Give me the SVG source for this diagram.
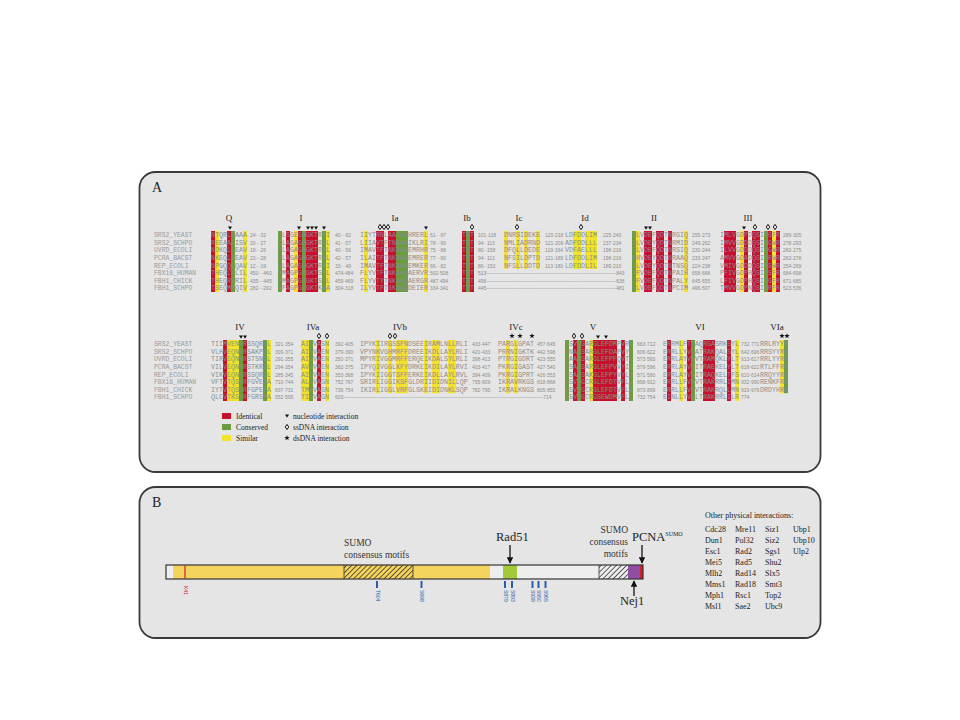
<svg xmlns="http://www.w3.org/2000/svg" width="960" height="720" viewBox="0 0 960 720">
<style>
.panel{fill:#e5e5e5;stroke:#3a3a3a;stroke-width:1.8}
.r{fill:#c8102e}.g{fill:#6a9e3a}.y{fill:#f2e32a}
.seq{font-family:"Liberation Mono",monospace;font-size:6.67px;fill:#8c8c8c}
.num{font-family:"Liberation Sans",sans-serif;font-size:5px;fill:#8c8c8c}
.nm{font-family:"Liberation Mono",monospace;font-size:6.4px;fill:#9a9a9a}
.mot{font-family:"Liberation Serif",serif;font-size:9px;fill:#222;text-anchor:middle}
.big{font-family:"Liberation Serif",serif;font-size:14px;fill:#222}
.leg{font-family:"Liberation Serif",serif;font-size:7.5px;fill:#222}
.lab{font-family:"Liberation Serif",serif;font-size:9.5px;fill:#333}
.lab2{font-family:"Liberation Serif",serif;font-size:12.5px;fill:#222}
.int{font-family:"Liberation Serif",serif;font-size:8px;fill:#222}
.site{font-family:"Liberation Sans",sans-serif;font-size:5px;fill:#2a5caa}
.tick{fill:#2a5caa}
.arr{stroke:#111;stroke-width:1.3;fill:none}
</style>
<defs>
<path id="tri" d="M-2,-1.6 L2,-1.6 L0,1.8 Z" fill="#111"/>
<path id="dia" d="M0,-2.6 L1.7,0 L0,2.6 L-1.7,0 Z" fill="#fff" stroke="#111" stroke-width="1"/>
<path id="star" d="M0,-2.8 L0.7,-0.9 L2.7,-0.9 L1.1,0.3 L1.7,2.3 L0,1.1 L-1.7,2.3 L-1.1,0.3 L-2.7,-0.9 L-0.7,-0.9 Z" fill="#111"/>
<pattern id="hatch" width="3.6" height="3.6" patternUnits="userSpaceOnUse" patternTransform="rotate(45)">
<line x1="0" y1="0" x2="0" y2="3.6" stroke="#222" stroke-width="1.4"/>
</pattern>
<marker id="ah" viewBox="0 0 10 10" refX="9" refY="5" markerWidth="5" markerHeight="5" orient="auto">
<path d="M0,0 L10,5 L0,10 Z" fill="#111"/>
</marker>
</defs>
<rect width="960" height="720" fill="#fff"/>

<g id="panelA">
<rect class="panel" x="139.5" y="172" width="681" height="300" rx="16"/>
<text class="big" x="152" y="192">A</text>

<g id="block1-bars">
<rect class="r" x="211" y="231" width="4" height="61"/><rect class="y" x="215" y="231" width="4" height="61"/><rect class="r" x="227" y="231" width="4" height="61"/><rect class="g" x="231" y="231" width="4" height="61"/><rect class="y" x="243" y="231" width="4" height="61"/>
<rect class="g" x="278" y="231" width="4" height="61"/><rect class="r" x="286" y="231" width="4" height="61"/><rect class="y" x="294" y="231" width="4" height="61"/><rect class="r" x="298" y="231" width="4" height="61"/><rect class="g" x="302" y="231" width="4" height="61"/><rect class="r" x="306" y="231" width="12" height="61"/><rect class="g" x="322" y="231" width="4" height="61"/><rect class="y" x="326" y="231" width="4" height="61"/>
<rect class="y" x="364" y="231" width="4" height="61"/><rect class="r" x="376" y="231" width="8" height="61"/><rect class="r" x="388" y="231" width="8" height="61"/><rect class="g" x="396" y="231" width="12" height="61"/><rect class="y" x="424" y="231" width="4" height="61"/>
<rect class="r" x="462" y="231" width="4" height="61"/><rect class="g" x="466" y="231" width="4" height="61"/><rect class="r" x="470" y="231" width="4" height="61"/>
<rect class="y" x="504" y="231" width="4" height="38"/><rect class="y" x="516" y="231" width="4" height="38"/><rect class="y" x="524" y="231" width="4" height="38"/><rect class="y" x="536" y="231" width="4" height="38"/>
<rect class="y" x="573" y="231" width="8" height="38"/><rect class="y" x="585" y="231" width="12" height="38"/>
<rect class="g" x="632" y="231" width="4" height="61"/><rect class="y" x="636" y="231" width="4" height="61"/><rect class="r" x="644" y="231" width="8" height="61"/><rect class="r" x="656" y="231" width="8" height="61"/><rect class="r" x="668" y="231" width="4" height="61"/><rect class="y" x="684" y="231" width="4" height="61"/>
<rect class="r" x="724" y="231" width="12" height="61"/><rect class="y" x="740" y="231" width="4" height="61"/><rect class="r" x="744" y="231" width="4" height="61"/><rect class="r" x="752" y="231" width="8" height="61"/><rect class="g" x="764" y="231" width="4" height="61"/><rect class="r" x="768" y="231" width="4" height="61"/><rect class="y" x="772" y="231" width="4" height="61"/><rect class="r" x="776" y="231" width="4" height="61"/>
</g>

<g id="block1-labels">
<text class="mot" x="229" y="221">Q</text><text class="mot" x="301" y="221">I</text><text class="mot" x="395" y="221">Ia</text><text class="mot" x="467" y="221">Ib</text><text class="mot" x="519" y="221">Ic</text><text class="mot" x="585" y="221">Id</text><text class="mot" x="654" y="221">II</text><text class="mot" x="748" y="221">III</text>
</g>
<g id="block1-markers">
<use href="#tri" x="230" y="228"/>
<use href="#tri" x="299" y="228"/><use href="#tri" x="308" y="228"/><use href="#tri" x="312" y="228"/><use href="#tri" x="316" y="228"/><use href="#tri" x="324" y="228"/>
<use href="#dia" x="380" y="227"/><use href="#dia" x="384" y="227"/><use href="#dia" x="388" y="227"/><use href="#tri" x="426" y="228"/>
<use href="#dia" x="472" y="227"/><use href="#dia" x="517" y="227"/><use href="#dia" x="581" y="227"/>
<use href="#tri" x="646" y="228"/><use href="#tri" x="650" y="228"/>
<use href="#tri" x="744" y="228"/><use href="#dia" x="755" y="227"/><use href="#dia" x="768" y="227"/><use href="#dia" x="775" y="227"/>
</g>

<g id="block1-text">
<text class="seq" y="237.2"><tspan class="nm" x="154">SRS2_YEAST</tspan><tspan x="211">NTQRLAAAA</tspan><tspan class="num" x="250">24···32</tspan><tspan x="278">ILSGEGSGKTRVI</tspan><tspan class="num" x="335">40···62</tspan><tspan x="360">IIYTRNLAATAAHRERL</tspan><tspan class="num" x="430">61···97</tspan><tspan x="462">TFT</tspan><tspan class="num" x="478">101·118</tspan><tspan x="504">DNRSIDEKE</tspan><tspan class="num" x="545">120·218</tspan><tspan x="565">LDFDDLIM</tspan><tspan class="num" x="603">225·243</tspan><tspan x="632">ILVDEFQDTNRGIQ</tspan><tspan class="num" x="692">255·273</tspan><tspan x="720">IMLVGDPDQSIYGFR</tspan><tspan class="num" x="783">289·305</tspan></text>
<text class="seq" y="244.8"><tspan class="nm" x="154">SRS2_SCHPO</tspan><tspan x="211">REEAALISV</tspan><tspan class="num" x="250">20···27</tspan><tspan x="278">ILAGAGSGKTRVL</tspan><tspan class="num" x="335">41···57</tspan><tspan x="360">LIIAVTFTNKAAIKLRI</tspan><tspan class="num" x="430">78···90</tspan><tspan x="462">TFT</tspan><tspan class="num" x="478">94··113</tspan><tspan x="504">NMLIADRND</tspan><tspan class="num" x="545">121·209</tspan><tspan x="565">ADFDDLLL</tspan><tspan class="num" x="603">237·234</tspan><tspan x="632">ILVDEYQDTNRMID</tspan><tspan class="num" x="692">249·262</tspan><tspan x="720">IMVVGDDDQSIYGWR</tspan><tspan class="num" x="783">278·293</tspan></text>
<text class="seq" y="252.4"><tspan class="nm" x="154">UVRD_ECOLI</tspan><tspan x="211">NDKQLLEAV</tspan><tspan class="num" x="250">19···26</tspan><tspan x="278">VLAGAGSGKTRVL</tspan><tspan class="num" x="335">40···56</tspan><tspan x="360">IMAVTFTNKAAREMRHR</tspan><tspan class="num" x="430">75···88</tspan><tspan x="462">TFT</tspan><tspan class="num" x="478">80··158</tspan><tspan x="504">DFQLLDEDE</tspan><tspan class="num" x="545">119·164</tspan><tspan x="565">VDFAELLL</tspan><tspan class="num" x="603">198·216</tspan><tspan x="632">ILVDEFQDTNRSIQ</tspan><tspan class="num" x="692">230·244</tspan><tspan x="720">ILVVGDDDQSIYGWR</tspan><tspan class="num" x="783">260·275</tspan></text>
<text class="seq" y="260"><tspan class="nm" x="154">PCRA_BACST</tspan><tspan x="211">NKEQLSEAV</tspan><tspan class="num" x="250">23···28</tspan><tspan x="278">VLAGAGSGKTRVL</tspan><tspan class="num" x="335">42···57</tspan><tspan x="360">ILAITFTNKAAREMRER</tspan><tspan class="num" x="430">77···90</tspan><tspan x="462">TFT</tspan><tspan class="num" x="478">94··113</tspan><tspan x="504">NFSILDPTD</tspan><tspan class="num" x="545">121·189</tspan><tspan x="565">LDFDDLIM</tspan><tspan class="num" x="603">198·219</tspan><tspan x="632">EHVDEYQDTNRAAQ</tspan><tspan class="num" x="692">233·247</tspan><tspan x="720">AMVVGDADQSIYRWR</tspan><tspan class="num" x="783">263·278</tspan></text>
<text class="seq" y="267.6"><tspan class="nm" x="154">REP_ECOLI</tspan><tspan x="211">NPGQQLQAV</tspan><tspan class="num" x="250">12···19</tspan><tspan x="278">VLAGAGSGKTRVI</tspan><tspan class="num" x="335">33···49</tspan><tspan x="360">IMAVTFTNKAAREMKER</tspan><tspan class="num" x="430">66···82</tspan><tspan x="462">TFT</tspan><tspan class="num" x="478">86··153</tspan><tspan x="504">NFSLLDDTD</tspan><tspan class="num" x="545">113·180</tspan><tspan x="565">LDFDDLIL</tspan><tspan class="num" x="603">189·210</tspan><tspan x="632">ILVDEYQDTNTNSQ</tspan><tspan class="num" x="692">224·238</tspan><tspan x="720">VMIVGDDDQSIYSWR</tspan><tspan class="num" x="783">254·269</tspan></text>
<text class="seq" y="275.2"><tspan class="nm" x="154">FBX18_HUMAN</tspan><tspan x="211">THEQLLLIL</tspan><tspan class="num" x="250">450···460</tspan><tspan x="278">VMAGPGTGKTSTL</tspan><tspan class="num" x="335">474·484</tspan><tspan x="360">FLYVTFTNKAAQAERVR</tspan><tspan class="num" x="430">502·508</tspan><tspan x="462">TFT</tspan><tspan class="num" x="478">513------------------------------------------------------------------------------843</tspan><tspan x="632">IFVDEFQDTNPAIH</tspan><tspan class="num" x="692">658·668</tspan><tspan x="720">PFIVGDPHQSIYSFR</tspan><tspan class="num" x="783">684·698</tspan></text>
<text class="seq" y="282.8"><tspan class="nm" x="154">FBH1_CHICK</tspan><tspan x="211">THEQRRRIL</tspan><tspan class="num" x="250">435···445</tspan><tspan x="278">VMAGPGTGKTSTL</tspan><tspan class="num" x="335">459·469</tspan><tspan x="360">FLYVTYTNKAAQAERGR</tspan><tspan class="num" x="430">487·494</tspan><tspan x="462">TFT</tspan><tspan class="num" x="478">496------------------------------------------------------------------------------636</tspan><tspan x="632">IFVDEFQDTNPALY</tspan><tspan class="num" x="692">645·655</tspan><tspan x="720">LFIVGDPHQSIYGFR</tspan><tspan class="num" x="783">671·685</tspan></text>
<text class="seq" y="290.4"><tspan class="nm" x="154">FBH1_SCHPO</tspan><tspan x="211">TSEQMMQIV</tspan><tspan class="num" x="250">282···292</tspan><tspan x="278">VFAGPGTGKTKAA</tspan><tspan class="num" x="335">304·318</tspan><tspan x="360">ILYVTFTSKAAQDEIER</tspan><tspan class="num" x="430">334·341</tspan><tspan x="462">TFT</tspan><tspan class="num" x="478">445------------------------------------------------------------------------------481</tspan><tspan x="632">LLVDEFQDTSPCIM</tspan><tspan class="num" x="692">496·507</tspan><tspan x="720">TMVVGDPNQSIYRFR</tspan><tspan class="num" x="783">523·536</tspan></text>
</g>

<g id="block2-bars">
<rect class="r" x="223" y="340" width="4" height="61"/><rect class="y" x="227" y="340" width="12" height="61"/><rect class="g" x="239" y="340" width="4" height="61"/><rect class="r" x="243" y="340" width="4" height="61"/><rect class="g" x="263" y="340" width="4" height="61"/><rect class="y" x="267" y="340" width="4" height="61"/>
<rect class="y" x="301" y="340" width="8" height="61"/><rect class="g" x="309" y="340" width="4" height="61"/><rect class="r" x="317" y="340" width="4" height="61"/><rect class="y" x="325" y="340" width="4" height="61"/>
<rect class="y" x="376" y="340" width="4" height="53.2"/><rect class="y" x="388" y="340" width="4" height="53.2"/><rect class="y" x="396" y="340" width="12" height="53.2"/><rect class="y" x="424" y="340" width="4" height="53.2"/><rect class="y" x="432" y="340" width="8" height="53.2"/><rect class="y" x="448" y="340" width="8" height="53.2"/>
<rect class="y" x="506" y="340" width="4" height="53.2"/><rect class="y" x="514" y="340" width="4" height="53.2"/>
<rect class="g" x="565" y="340" width="4" height="61"/><rect class="r" x="573" y="340" width="4" height="61"/><rect class="g" x="577" y="340" width="4" height="61"/><rect class="r" x="581" y="340" width="4" height="61"/><rect class="y" x="589" y="340" width="4" height="61"/><rect class="r" x="593" y="340" width="24" height="61"/><rect class="r" x="621" y="340" width="4" height="61"/><rect class="g" x="629" y="340" width="4" height="61"/>
<rect class="r" x="667" y="340" width="4" height="61"/><rect class="y" x="679" y="340" width="4" height="61"/><rect class="r" x="687" y="340" width="4" height="61"/><rect class="g" x="691" y="340" width="4" height="61"/><rect class="r" x="703" y="340" width="12" height="61"/><rect class="r" x="727" y="340" width="4" height="61"/><rect class="y" x="735" y="340" width="4" height="61"/>
<rect class="y" x="780" y="340" width="4" height="53.2"/><rect class="g" x="784" y="340" width="4" height="53.2"/>
</g>

<g id="block2-labels">
<text class="mot" x="240" y="330">IV</text><text class="mot" x="313" y="330">IVa</text><text class="mot" x="400" y="330">IVb</text><text class="mot" x="516" y="330">IVc</text><text class="mot" x="593" y="330">V</text><text class="mot" x="700" y="330">VI</text><text class="mot" x="777" y="330">VIa</text>
</g>
<g id="block2-markers">
<use href="#tri" x="241" y="337"/><use href="#tri" x="245" y="337"/>
<use href="#dia" x="319" y="336"/><use href="#dia" x="327" y="336"/>
<use href="#dia" x="390" y="336"/><use href="#dia" x="395" y="336"/>
<use href="#star" x="512" y="336"/><use href="#star" x="520" y="336"/><use href="#star" x="532" y="336"/>
<use href="#dia" x="574" y="336"/><use href="#dia" x="582" y="336"/><use href="#tri" x="598" y="337"/><use href="#tri" x="606" y="337"/>
<use href="#star" x="782" y="336"/><use href="#star" x="787" y="336"/>
</g>

<g id="block2-text">
<text class="seq" y="346.2"><tspan class="nm" x="154">SRS2_YEAST</tspan><tspan x="211">TIIMVENYRSSQRIL</tspan><tspan class="num" x="275">321·354</tspan><tspan x="301">AIEVASN</tspan><tspan class="num" x="335">392·405</tspan><tspan x="360">IPYKIIRGSSFNDSEEIRAMLNLLRLI</tspan><tspan class="num" x="472">433·447</tspan><tspan x="498">PARGLGPAT</tspan><tspan class="num" x="537">457·645</tspan><tspan x="565">DSVQGARGLEFDMPVRT</tspan><tspan class="num" x="637">663·712</tspan><tspan x="663">ERRMLFTTAQRGASRKSYL</tspan><tspan class="num" x="741">732·771</tspan><tspan x="760">RRLRYYR</tspan></text>
<text class="seq" y="353.8"><tspan class="nm" x="154">SRS2_SCHPO</tspan><tspan x="211">VLHVEQNYRSAKPIL</tspan><tspan class="num" x="275">309·371</tspan><tspan x="301">AIEVAEN</tspan><tspan class="num" x="335">379·390</tspan><tspan x="360">VPYNKVGHMRFFDREEIKDLLAYLRLI</tspan><tspan class="num" x="472">420·433</tspan><tspan x="498">PRRNIGKTK</tspan><tspan class="num" x="537">442·598</tspan><tspan x="565">DNAQSARGLEFDAPVYL</tspan><tspan class="num" x="637">606·622</tspan><tspan x="663">ERRLLYVGATRAKQALSYL</tspan><tspan class="num" x="741">642·696</tspan><tspan x="760">RRSYYRR</tspan></text>
<text class="seq" y="361.4"><tspan class="nm" x="154">UVRD_ECOLI</tspan><tspan x="211">TIRVEQNYRSTSNIL</tspan><tspan class="num" x="275">291·355</tspan><tspan x="301">AIEVAEN</tspan><tspan class="num" x="335">350·371</tspan><tspan x="360">MPYRIVGGMRFFERQEIKDALSYLRLI</tspan><tspan class="num" x="472">398·413</tspan><tspan x="498">PTRGIGDRT</tspan><tspan class="num" x="537">423·555</tspan><tspan x="565">DAAQSARGLEFPFQVTL</tspan><tspan class="num" x="637">573·593</tspan><tspan x="663">ERRLAYVGVTRAMQKLYLT</tspan><tspan class="num" x="741">613·617</tspan><tspan x="760">RRLYYRR</tspan></text>
<text class="seq" y="369"><tspan class="nm" x="154">PCRA_BACST</tspan><tspan x="211">VILVEQNYRSTKRIL</tspan><tspan class="num" x="275">294·354</tspan><tspan x="301">AVEVAEN</tspan><tspan class="num" x="335">362·375</tspan><tspan x="360">IPYQIVGGLKFYDRKEIKDILAYLRVI</tspan><tspan class="num" x="472">403·417</tspan><tspan x="498">PKRGIGAST</tspan><tspan class="num" x="537">427·540</tspan><tspan x="565">DSAQSARGLEFPVVYIL</tspan><tspan class="num" x="637">579·596</tspan><tspan x="663">ERRLAYVGITRAEKELYLT</tspan><tspan class="num" x="741">618·622</tspan><tspan x="760">RTLFFRR</tspan></text>
<text class="seq" y="376.6"><tspan class="nm" x="154">REP_ECOLI</tspan><tspan x="211">VIKVEQNYRSSQRIL</tspan><tspan class="num" x="275">285·345</tspan><tspan x="301">AIEVAEN</tspan><tspan class="num" x="335">353·368</tspan><tspan x="360">IPYKIIGGTSFFERKEIKDLLAYLRVL</tspan><tspan class="num" x="472">394·409</tspan><tspan x="498">PKRGIGPRT</tspan><tspan class="num" x="537">416·553</tspan><tspan x="565">DSAQSAKGLEFPYVYLV</tspan><tspan class="num" x="637">571·590</tspan><tspan x="663">ERRLAYVGITRAQKELTFS</tspan><tspan class="num" x="741">610·614</tspan><tspan x="760">RRQYYRR</tspan></text>
<text class="seq" y="384.2"><tspan class="nm" x="154">FBX18_HUMAN</tspan><tspan x="211">VFTVTQSYRFGVEIA</tspan><tspan class="num" x="275">710·744</tspan><tspan x="301">ALEVAGN</tspan><tspan class="num" x="335">752·767</tspan><tspan x="360">SRIRLIGGIKSFGLDRIIDIDNILLQP</tspan><tspan class="num" x="472">795·809</tspan><tspan x="498">IKRAVRKGS</tspan><tspan class="num" x="537">818·868</tspan><tspan x="565">DSVQGCRGLEFDTVFLL</tspan><tspan class="num" x="637">898·912</tspan><tspan x="663">ERRLLFVAVTRAKRRLIMN</tspan><tspan class="num" x="741">932·990</tspan><tspan x="760">RENKFRR</tspan></text>
<text class="seq" y="391.8"><tspan class="nm" x="154">FBH1_CHICK</tspan><tspan x="211">IYTVTQSYRFGPEIA</tspan><tspan class="num" x="275">697·731</tspan><tspan x="301">TMEVAGN</tspan><tspan class="num" x="335">739·754</tspan><tspan x="360">IKIRLIGGLVRFGLSKEIDIDNKLSQP</tspan><tspan class="num" x="472">782·795</tspan><tspan x="498">IKRALKNGS</tspan><tspan class="num" x="537">805·855</tspan><tspan x="565">DSVQGCRGLEFDTVFLI</tspan><tspan class="num" x="637">873·899</tspan><tspan x="663">ERRLLFVAVTRAKRQLLMN</tspan><tspan class="num" x="741">919·976</tspan><tspan x="760">DRDYHRR</tspan></text>
<text class="seq" y="399.4"><tspan class="nm" x="154">FBH1_SCHPO</tspan><tspan x="211">QLCVTKSYRFGRSMA</tspan><tspan class="num" x="275">552·595</tspan><tspan x="301">TIEVAGN</tspan><tspan class="num" x="335">603------------------------------------------------------------------------------------------------------------------------714</tspan><tspan x="565">DSVQGCRGSEWDMVFLL</tspan><tspan class="num" x="637">732·754</tspan><tspan x="663">EINLLYVALTRAKRRLILR</tspan><tspan class="num" x="741">774</tspan></text>
</g>

<g id="legend">
<rect class="r" x="222" y="413" width="9" height="6"/>
<rect class="g" x="222" y="424" width="9" height="6"/>
<rect class="y" x="222" y="435" width="9" height="6"/>
<text class="leg" x="236" y="419">Identical</text>
<text class="leg" x="236" y="430">Conserved</text>
<text class="leg" x="236" y="441">Similar</text>
<use href="#tri" x="287" y="416"/>
<use href="#dia" x="287" y="427"/>
<use href="#star" x="287" y="438"/>
<text class="leg" x="293" y="419">nucleotide interaction</text>
<text class="leg" x="293" y="430">ssDNA interaction</text>
<text class="leg" x="293" y="441">dsDNA interaction</text>
</g>
</g>

<g id="panelB">
<rect class="panel" x="139.5" y="487" width="681" height="151" rx="16"/>
<text class="big" x="152" y="507">B</text>

<g id="protein">
<rect x="166" y="565" width="477" height="14" fill="#eeeeee"/>
<rect x="173" y="565" width="317" height="14" fill="#f4d35e"/>
<rect x="344" y="565" width="69" height="14" fill="url(#hatch)"/>
<rect x="503" y="565" width="14" height="14" fill="#a3c93a"/>
<rect x="599" y="565" width="29" height="14" fill="url(#hatch)"/>
<rect x="628" y="565" width="12" height="14" fill="#8e4fa3"/>
<rect x="640" y="565" width="3" height="14" fill="#d0202a"/>
<line x1="344" y1="565" x2="344" y2="579" stroke="#333" stroke-width="0.8"/>
<line x1="413" y1="565" x2="413" y2="579" stroke="#333" stroke-width="0.8"/>
<line x1="599" y1="565" x2="599" y2="579" stroke="#333" stroke-width="0.8"/>
<rect x="166" y="565" width="477" height="14" fill="none" stroke="#333" stroke-width="1.2"/>
<line x1="185" y1="565" x2="185" y2="579" stroke="#d0202a" stroke-width="1.2"/>
</g>

<g id="sites">
<text x="184" y="586" transform="rotate(90 184 586)" font-family="Liberation Sans, sans-serif" font-size="5px" fill="#d0202a">K41</text>
<rect class="tick" x="376" y="581" width="2" height="7"/><rect class="tick" x="420.5" y="581" width="2" height="7"/>
<rect class="tick" x="504" y="581" width="2" height="7"/><rect class="tick" x="511" y="581" width="2" height="7"/>
<rect class="tick" x="531.5" y="581" width="2" height="7"/><rect class="tick" x="537.5" y="581" width="2" height="7"/><rect class="tick" x="544.5" y="581" width="2" height="7"/>
<text class="site" x="375.5" y="590" transform="rotate(90 375.5 590)">T604</text>
<text class="site" x="420" y="590" transform="rotate(90 420 590)">S698</text>
<text class="site" x="503.5" y="590" transform="rotate(90 503.5 590)">S879</text>
<text class="site" x="510.5" y="590" transform="rotate(90 510.5 590)">S893</text>
<text class="site" x="531" y="590" transform="rotate(90 531 590)">S938</text>
<text class="site" x="537" y="590" transform="rotate(90 537 590)">S950</text>
<text class="site" x="544" y="590" transform="rotate(90 544 590)">S965</text>
</g>

<g id="labels-B">
<text class="lab" x="344" y="546">SUMO</text>
<text class="lab" x="344" y="558">consensus motifs</text>
<text class="lab" x="628" y="533" text-anchor="end">SUMO</text>
<text class="lab" x="628" y="545" text-anchor="end">consensus</text>
<text class="lab" x="628" y="557" text-anchor="end">motifs</text>
<text class="lab2" x="496" y="541">Rad51</text>
<text class="lab2" x="632" y="541">PCNA<tspan font-size="6px" dy="-5">SUMO</tspan></text>
<text class="lab2" x="620" y="605">Nej1</text>
</g>

<g id="connectors">
<line class="arr" x1="510" y1="545" x2="510" y2="563" marker-end="url(#ah)"/>
<line class="arr" x1="642" y1="545" x2="642" y2="563" marker-end="url(#ah)"/>
<line class="arr" x1="634" y1="596" x2="634" y2="581" marker-end="url(#ah)"/>
</g>

<g id="interactions">
<text class="int" x="705" y="518">Other physical interactions:</text>
<text class="int" x="705" y="532">Cdc28</text><text class="int" x="735" y="532">Mre11</text><text class="int" x="765" y="532">Siz1</text><text class="int" x="793" y="532">Ubp1</text>
<text class="int" x="705" y="543">Dun1</text><text class="int" x="735" y="543">Pol32</text><text class="int" x="765" y="543">Siz2</text><text class="int" x="793" y="543">Ubp10</text>
<text class="int" x="705" y="554">Esc1</text><text class="int" x="735" y="554">Rad2</text><text class="int" x="765" y="554">Sgs1</text><text class="int" x="793" y="554">Ulp2</text>
<text class="int" x="705" y="565">Mei5</text><text class="int" x="735" y="565">Rad5</text><text class="int" x="765" y="565">Shu2</text>
<text class="int" x="705" y="576">Mlh2</text><text class="int" x="735" y="576">Rad14</text><text class="int" x="765" y="576">Slx5</text>
<text class="int" x="705" y="587">Mms1</text><text class="int" x="735" y="587">Rad18</text><text class="int" x="765" y="587">Smt3</text>
<text class="int" x="705" y="598">Mph1</text><text class="int" x="735" y="598">Rsc1</text><text class="int" x="765" y="598">Top2</text>
<text class="int" x="705" y="609">Msl1</text><text class="int" x="735" y="609">Sae2</text><text class="int" x="765" y="609">Ubc9</text>
</g>
</g>
</svg>
